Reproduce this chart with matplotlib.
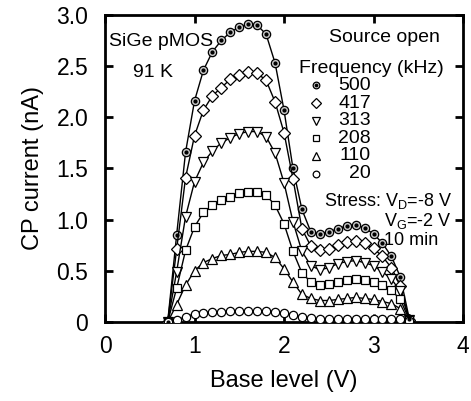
import matplotlib
matplotlib.use("Agg")
import matplotlib.pyplot as plt
import numpy as np

plt.rcParams['font.family'] = ['Liberation Sans', 'DejaVu Sans']

base_level = [0.7, 0.8, 0.9, 1.0, 1.1, 1.2, 1.3, 1.4, 1.5, 1.6, 1.7, 1.8, 1.9, 2.0,
              2.1, 2.2, 2.3, 2.4, 2.5, 2.6, 2.7, 2.8, 2.9, 3.0, 3.1, 3.2, 3.3, 3.4]

i_500 = [0.0, 0.85, 1.66, 2.16, 2.46, 2.64, 2.75, 2.83, 2.88, 2.91, 2.90, 2.81, 2.53, 2.07,
         1.50, 1.10, 0.88, 0.86, 0.88, 0.91, 0.94, 0.95, 0.92, 0.86, 0.77, 0.64, 0.44, 0.03]
i_417 = [0.0, 0.71, 1.41, 1.82, 2.07, 2.21, 2.29, 2.37, 2.41, 2.44, 2.43, 2.36, 2.15, 1.85,
         1.40, 0.91, 0.74, 0.70, 0.71, 0.75, 0.78, 0.79, 0.77, 0.72, 0.64, 0.53, 0.35, 0.02]
i_313 = [0.0, 0.49, 1.03, 1.37, 1.56, 1.67, 1.75, 1.80, 1.84, 1.86, 1.86, 1.81, 1.65, 1.36,
         0.98, 0.69, 0.55, 0.51, 0.53, 0.57, 0.59, 0.60, 0.58, 0.55, 0.49, 0.42, 0.30, 0.02]
i_208 = [0.0, 0.33, 0.70, 0.93, 1.07, 1.14, 1.19, 1.22, 1.26, 1.27, 1.27, 1.24, 1.14, 0.96,
         0.69, 0.48, 0.39, 0.36, 0.37, 0.39, 0.41, 0.42, 0.41, 0.39, 0.36, 0.31, 0.22, 0.02]
i_110 = [0.0, 0.17, 0.36, 0.50, 0.58, 0.62, 0.65, 0.66, 0.68, 0.69, 0.69, 0.68, 0.63, 0.52,
         0.39, 0.27, 0.23, 0.21, 0.21, 0.22, 0.23, 0.24, 0.23, 0.22, 0.20, 0.18, 0.13, 0.02]
i_20 = [0.0, 0.02, 0.05, 0.08, 0.09, 0.10, 0.10, 0.11, 0.11, 0.11, 0.11, 0.11, 0.10, 0.09,
        0.07, 0.05, 0.04, 0.03, 0.03, 0.03, 0.03, 0.03, 0.03, 0.03, 0.03, 0.03, 0.03, 0.01]

freq_labels = ['500', '417', '313', '208', '110', '20']
x_ticks = [0, 1, 2, 3, 4]
y_ticks = [0, 0.5, 1.0, 1.5, 2.0, 2.5, 3.0]
y_ticklabels = ['0', '0.5', '1.0', '1.5', '2.0', '2.5', '3.0']

series = [i_500, i_417, i_313, i_208, i_110, i_20]
markers = ['o', 'D', 'v', 's', '^', 'o']
msizes = [6.0, 6.5, 7.0, 6.0, 7.0, 6.0]
faces = ['#c8c8c8', 'white', 'white', 'white', 'white', 'white']

fig = plt.figure(figsize=(4.71, 4.01), dpi=100)
ax = fig.add_axes([0.223, 0.197, 0.760, 0.766])

for ys, m, ms, fc in zip(series, markers, msizes, faces):
    ax.plot(base_level, ys, color='black', lw=1.0, marker=m, ms=ms,
            mfc=fc, mec='black', mew=0.9, zorder=3)
# dotted centre for 500 kHz markers
ax.plot(base_level, i_500, ls='none', marker='o', ms=2.0, mfc='black', mec='black', zorder=4)

ax.set_xlim(0, 4)
ax.set_ylim(0, 3.0)
ax.set_xticks(x_ticks)
ax.set_yticks(y_ticks)
ax.set_yticklabels(y_ticklabels)
ax.tick_params(direction='in', length=6, width=2, labelsize=16.5, top=True, right=True)
ax.tick_params(axis='y', pad=12)
ax.tick_params(axis='x', pad=9)
for s in ax.spines.values():
    s.set_linewidth(2)
ax.set_xlabel('Base level (V)', fontsize=17, labelpad=9)
ax.set_ylabel('CP current (nA)', fontsize=17, labelpad=9)

fs = 14
ax.text(0.63, 2.74, 'SiGe pMOS', fontsize=fs, ha='center', va='center')
ax.text(0.54, 2.44, '91 K', fontsize=fs, ha='center', va='center')
ax.text(3.12, 2.78, 'Source open', fontsize=fs, ha='center', va='center')
ax.text(2.17, 2.48, 'Frequency (kHz)', fontsize=fs, ha='left', va='center')

leg_y0 = 2.31
leg_dy = 0.172
for k, (lab, m, ms, fc) in enumerate(zip(freq_labels, markers, msizes, faces)):
    yy = leg_y0 - k * leg_dy
    ax.plot([2.36], [yy], ls='none', marker=m, ms=ms * 0.8, mfc=fc, mec='black', mew=0.9)
    if k == 0:
        ax.plot([2.36], [yy], ls='none', marker='o', ms=1.6, mfc='black', mec='black')
    ax.text(2.97, yy, lab, fontsize=fs, ha='right', va='center')

fs2 = 13
ax.text(2.45, 1.18, 'Stress: V$_\\mathregular{D}$=-8 V', fontsize=fs2, ha='left', va='center')
ax.text(3.12, 0.99, 'V$_\\mathregular{G}$=-2 V', fontsize=fs2, ha='left', va='center')
ax.text(3.12, 0.80, '10 min', fontsize=fs2, ha='left', va='center')

fig.savefig('out.png', dpi=100)
